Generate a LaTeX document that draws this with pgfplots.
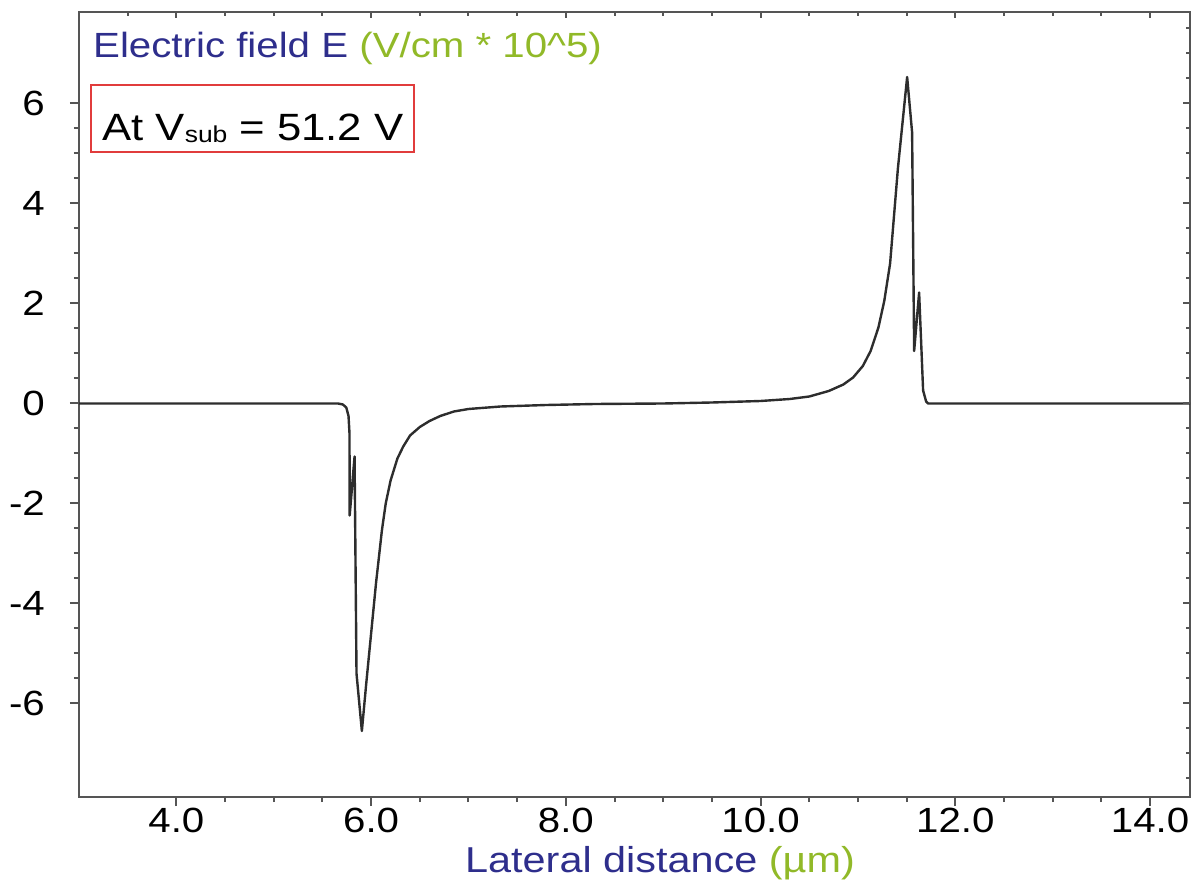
\documentclass[border=0pt]{standalone}
\usepackage{pgfplots}
\pgfplotsset{compat=1.18}
\usepackage{pgfplotstable}
\usepackage{graphicx}
\usepackage{fontspec}
\setmainfont{Liberation Sans}

\definecolor{axisgray}{RGB}{85,85,85}
\definecolor{curvegray}{RGB}{45,45,45}
\definecolor{labelblue}{RGB}{46,46,140}
\definecolor{unitgreen}{RGB}{145,185,40}
\definecolor{boxred}{RGB}{225,60,60}

% slightly widened lettering
\newcommand{\hs}[1]{\scalebox{1.15}[1]{#1}}

% lateral electric field profile (V/cm * 10^5) vs. lateral distance (um)
\pgfplotstableread{
x y
3.000 0
5.660 0
5.710 -0.02
5.745 -0.08
5.768 -0.25
5.778 -0.60
5.780 -2.24
5.830 -1.06
5.850 -5.40
5.905 -6.55
5.950 -5.60
6.000 -4.60
6.050 -3.60
6.110 -2.55
6.150 -2.00
6.200 -1.54
6.270 -1.10
6.330 -0.86
6.400 -0.64
6.500 -0.47
6.600 -0.35
6.710 -0.25
6.850 -0.16
7.000 -0.11
7.330 -0.06
7.800 -0.03
8.300 -0.01
9.000 0.00
9.500 0.02
10.00 0.05
10.30 0.09
10.50 0.14
10.70 0.25
10.85 0.38
10.95 0.52
11.05 0.75
11.13 1.05
11.21 1.52
11.27 2.05
11.33 2.80
11.41 4.70
11.505 6.53
11.556 5.42
11.577 1.05
11.628 2.22
11.669 0.26
11.700 0.04
11.720 0.00
14.41 0
}\fieldtable

\begin{document}
\begin{tikzpicture}[x=1pt,y=1pt]
\begin{axis}[
  scale only axis,
  width=1111pt, height=785pt,
  xmin=3, xmax=14.41, ymin=-7.87, ymax=7.83,
  axis line style={axisgray, line width=2pt},
  xtick={4,6,8,10,12,14},
  xticklabels={\hs{4.0},\hs{6.0},\hs{8.0},\hs{10.0},\hs{12.0},\hs{14.0}},
  ytick={-6,-4,-2,0,2,4,6},
  yticklabels={\hs{-6},\hs{-4},\hs{-2},\hs{0},\hs{2},\hs{4},\hs{6}},
  minor x tick num=3, minor y tick num=3,
  xtick pos=left, ytick pos=left,
  tick align=outside,
  major tick length=9pt, minor tick length=5pt,
  every tick/.style={axisgray, line width=2pt},
  ticklabel style={font=\fontsize{35}{40}\selectfont, text=black},
  xticklabel style={anchor=north, inner sep=0pt, yshift=-2pt},
  yticklabel style={anchor=east, inner sep=0pt, xshift=-25pt},
]
\coordinate (bl) at (rel axis cs:0,0);
\addplot[curvegray, line width=2.4pt, line join=round] table[x=x, y=y] {\fieldtable};
% inward ticks along the top edge
\pgfplotsinvokeforeach{4,6,8,10,12,14}{
  \draw[axisgray, line width=2pt] (axis cs:#1,7.83) -- ([yshift=-6pt]axis cs:#1,7.83);}
\pgfplotsinvokeforeach{3.5,4.5,5,5.5,6.5,7,7.5,8.5,9,9.5,10.5,11,11.5,12.5,13,13.5}{
  \draw[axisgray, line width=2pt] (axis cs:#1,7.83) -- ([yshift=-4pt]axis cs:#1,7.83);}
% inward ticks along the right edge
\pgfplotsinvokeforeach{-6,-4,-2,0,2,4,6}{
  \draw[axisgray, line width=2pt] (axis cs:14.41,#1) -- ([xshift=-7pt]axis cs:14.41,#1);}
\pgfplotsinvokeforeach{-7.5,-7,-6.5,-5.5,-5,-4.5,-3.5,-3,-2.5,-1.5,-1,-0.5,0.5,1,1.5,2.5,3,3.5,4.5,5,5.5,6.5,7,7.5}{
  \draw[axisgray, line width=2pt] (axis cs:14.41,#1) -- ([xshift=-4pt]axis cs:14.41,#1);}
\end{axis}
\pgfresetboundingbox
\begin{scope}[shift={(bl)}, xshift=-79pt, yshift=-89pt]
\useasboundingbox (0,0) rectangle (1202,886);
\node[anchor=base west, inner sep=0pt] at (93,828)
  {\fontsize{35}{40}\selectfont\hs{\textcolor{labelblue}{Electric field E} \textcolor{unitgreen}{(V/cm * 10\textasciicircum 5)}}};
\draw[boxred, line width=1.5pt] (91,801) rectangle (414,734);
\node[anchor=base west, inner sep=0pt] at (102,745)
  {\fontsize{38}{44}\selectfont\hs{At V\raisebox{-2pt}{\fontsize{23}{26}\selectfont sub} = 51.2 V}};
\node[anchor=base, inner sep=0pt] at (660,14)
  {\fontsize{36}{42}\selectfont\hs{\textcolor{labelblue}{Lateral distance} \textcolor{unitgreen}{(µm)}}};
\end{scope}
\end{tikzpicture}
\end{document}
